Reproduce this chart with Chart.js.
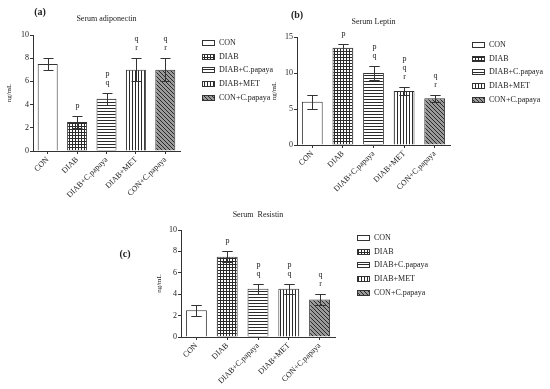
<!DOCTYPE html>
<html>
<head>
<meta charset="utf-8">
<script src="https://cdn.jsdelivr.net/npm/chart.js@4.4.0/dist/chart.umd.min.js"></script>
<style>
  body { margin: 0; background: #fff; }
  #wrap { position: relative; width: 550px; height: 389px; overflow: hidden; }
  canvas { position: absolute; }
</style>
</head>
<body>
<div id="wrap">
  <canvas id="chartA" width="275" height="200" style="left:0px;top:0px"></canvas>
  <canvas id="chartB" width="285" height="200" style="left:265px;top:0px"></canvas>
  <canvas id="chartC" width="330" height="194" style="left:100px;top:195px"></canvas>
</div>
<script>
const groups = ['CON', 'DIAB', 'DIAB+C.papaya', 'DIAB+MET', 'CON+C.papaya'];

const adiponectin = [7.5, 2.5, 4.5, 7, 7];
const adiponectinErr = [0.5, 0.5, 0.5, 1, 1];
const adiponectinSig = [[], ['p'], ['p', 'q'], ['q', 'r'], ['q', 'r']];

const leptin = [6, 13.5, 10, 7.5, 6.5];
const leptinErr = [1, 0.5, 1, 0.5, 0.5];
const leptinSig = [[], ['p'], ['p', 'q'], ['p', 'q', 'r'], ['q', 'r']];

const resistin = [2.5, 7.5, 4.5, 4.5, 3.5];
const resistinErr = [0.5, 0.5, 0.5, 0.5, 0.5];
const resistinSig = [[], ['p'], ['p', 'q'], ['p', 'q'], ['q', 'r']];

const serif = "'Liberation Serif', 'DejaVu Serif', serif";
const ink = '#333';

// hatch patterns like the GraphPad bars
function makePattern(kind) {
  if (kind === 'none') return '#ffffff';
  const c = document.createElement('canvas');
  const g = c.getContext('2d');
  const s = kind === 'diag' ? 4 : 3;
  c.width = s; c.height = s;
  g.fillStyle = kind === 'diag' ? '#9a9a9a' : '#ffffff';
  g.fillRect(0, 0, s, s);
  g.fillStyle = '#2a2a2a';
  if (kind === 'grid') { g.fillRect(0, 0, s, 1); g.fillRect(0, 0, 1, s); }
  if (kind === 'hlines') g.fillRect(0, 0, s, 1);
  if (kind === 'vlines') g.fillRect(0, 0, 1, s);
  if (kind === 'diag') { for (let i = 0; i < s; i++) g.fillRect(i, i, 1, 1); }
  return g.createPattern(c, 'repeat');
}
const fills = ['none', 'grid', 'hlines', 'vlines', 'diag'].map(makePattern);

const panelPlugin = {
  id: 'panel',
  afterDatasetsDraw(chart, args, opts) {
    const ctx = chart.ctx;
    const area = chart.chartArea;
    const ys = chart.scales.y;
    const ds = chart.data.datasets[0];
    const meta = chart.getDatasetMeta(0);
    ctx.save();
    ctx.strokeStyle = ink;
    ctx.fillStyle = '#222';
    ctx.lineWidth = 1;
    ctx.textAlign = 'center';
    ctx.textBaseline = 'middle';
    ctx.font = '8px ' + serif;
    meta.data.forEach((bar, i) => {
      const x = Math.round(bar.x) + 0.5;
      const top = Math.round(ys.getPixelForValue(ds.data[i] + opts.err[i])) + 0.5;
      const bot = Math.round(ys.getPixelForValue(ds.data[i] - opts.err[i])) + 0.5;
      const cap = bar.width * 0.25;
      ctx.beginPath();
      ctx.moveTo(x, top); ctx.lineTo(x, bot);
      ctx.moveTo(x - cap, top); ctx.lineTo(x + cap, top);
      ctx.moveTo(x - cap, bot); ctx.lineTo(x + cap, bot);
      ctx.stroke();
      const sig = opts.sig[i];
      for (let k = 0; k < sig.length; k++) {
        ctx.fillText(sig[sig.length - 1 - k], x, top - 11 - k * 9);
      }
    });
    // title over the plot
    ctx.fillText(opts.title, (area.left + area.right) / 2, opts.titleY);
    // panel letter
    ctx.font = 'bold 10px ' + serif;
    ctx.fillText(opts.label, opts.labelX, opts.labelY);
    // legend
    ctx.font = '8px ' + serif;
    ctx.textAlign = 'left';
    chart.data.labels.forEach((lab, i) => {
      const bx = area.right + 22;
      const by = Math.round(area.top + 8 + i * 13.7);
      ctx.fillStyle = ds.backgroundColor[i];
      ctx.fillRect(bx, by - 2.5, 12, 5);
      ctx.strokeRect(bx + 0.5, by - 2.5, 12, 5);
      ctx.fillStyle = '#222';
      ctx.fillText(lab, bx + 17, by);
    });
    ctx.restore();
  }
};

function makeChart(id, values, err, sig, yMax, step, pad, yWidth, xHeight, extra) {
  return new Chart(document.getElementById(id), {
    type: 'bar',
    data: {
      labels: groups,
      datasets: [{
        data: values,
        backgroundColor: fills,
        borderColor: ink,
        borderWidth: 1,
        barPercentage: 0.68,
        categoryPercentage: 1
      }]
    },
    options: {
      responsive: false,
      animation: false,
      layout: { padding: pad },
      plugins: {
        legend: { display: false },
        tooltip: { enabled: false },
        panel: Object.assign({ err: err, sig: sig }, extra)
      },
      scales: {
        x: {
          offset: true,
          afterFit: s => { s.height = xHeight; },
          border: { color: ink },
          grid: { offset: false, drawOnChartArea: false, tickLength: 3, color: ink },
          ticks: { minRotation: 45, maxRotation: 45, padding: 1, color: '#222', font: { family: serif, size: 8 } }
        },
        y: {
          min: 0, max: yMax,
          afterFit: s => { s.width = yWidth; },
          border: { color: ink },
          grid: { drawOnChartArea: false, tickLength: 3, color: ink },
          ticks: { stepSize: step, padding: 1, color: '#222', font: { family: serif, size: 8 } },
          title: { display: true, text: 'ng/mL', color: '#222', padding: { top: 5, bottom: 2 }, font: { family: serif, size: 7 } }
        }
      }
    },
    plugins: [panelPlugin]
  });
}

makeChart('chartA', adiponectin, adiponectinErr, adiponectinSig, 10, 2,
  { top: 35, right: 95, left: 0, bottom: 0 }, 33, 49,
  { title: 'Serum adiponectin', titleY: 19, label: '(a)', labelX: 40, labelY: 12 });

makeChart('chartB', leptin, leptinErr, leptinSig, 15, 5,
  { top: 37, right: 100, left: 0, bottom: 0 }, 32, 55,
  { title: 'Serum Leptin', titleY: 22, label: '(b)', labelX: 32, labelY: 15 });

makeChart('chartC', resistin, resistinErr, resistinSig, 10, 2,
  { top: 35, right: 95, left: 50, bottom: 0 }, 31, 52,
  { title: 'Serum  Resistin', titleY: 20, label: '(c)', labelX: 25, labelY: 59 });
</script>
</body>
</html>
